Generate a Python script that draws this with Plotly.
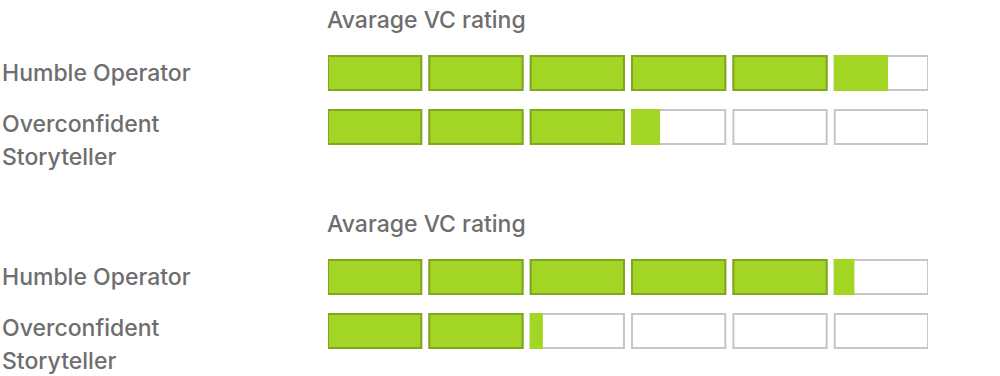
import plotly.graph_objects as go

# ---- data ----
chart_titles = ["Avarage VC rating", "Avarage VC rating"]
categories = ["Humble Operator", "Overconfident Storyteller"]
chart1_values = [5.56, 3.29]
chart2_values = [5.20, 2.12]
max_rating = 6

FILL = "#A3D624"
FILL_EDGE = "#7FA61C"
EMPTY_EDGE = "#C6C6C6"
TEXT = "#6E6E6E"
FONT = "Inter"
FSIZE = 23
BOX = 0.92  # fraction of one rating step occupied by a box

fig = go.Figure()

charts = [chart1_values, chart2_values]
yaxes = ["y", "y2"]
domains = [[0.5904, 0.8777], [0.0479, 0.3351]]

for ci, (vals, ya) in enumerate(zip(charts, yaxes)):
    for ri, cat in enumerate(categories):
        # empty boxes
        fig.add_trace(go.Bar(
            orientation="h", y=[cat] * max_rating, x=[BOX] * max_rating,
            base=list(range(max_rating)), width=0.63,
            marker=dict(color="white", line=dict(color=EMPTY_EDGE, width=2)),
            yaxis=ya, xaxis="x" if ci == 0 else "x2", showlegend=False, hoverinfo="skip"))
        # filled parts
        v = vals[ri]
        fx, fb, fl = [], [], []
        for i in range(max_rating):
            f = min(max(v - i, 0), 1)
            if f > 0:
                fx.append(f * BOX)
                fb.append(i)
                fl.append(FILL_EDGE if f >= 1 else FILL)
        fig.add_trace(go.Bar(
            orientation="h", y=[cat] * len(fx), x=fx, base=fb, width=0.63,
            marker=dict(color=FILL, line=dict(color=fl, width=2)),
            yaxis=ya, xaxis="x" if ci == 0 else "x2", showlegend=False, hoverinfo="skip"))

font = dict(family=FONT, size=FSIZE, color=TEXT, weight=500)
annotations = []
title_y = [0.947, 0.4045]
for ci, ya in enumerate(yaxes):
    xr = "x" if ci == 0 else "x2"
    annotations.append(dict(text=chart_titles[ci], xref=xr, x=0, xanchor="left", xshift=-3,
                            yref="paper", y=title_y[ci], yanchor="middle", showarrow=False,
                            font=font))
    annotations.append(dict(text=categories[0], xref="paper", x=0.0, xanchor="left",
                            yref=ya, y=categories[0], yanchor="middle", showarrow=False,
                            font=font))
    words = categories[1].split(" ")
    for wi, (w, sh) in enumerate(zip(words, [3, -30])):
        annotations.append(dict(text=w, xref="paper", x=0.0, xanchor="left",
                                yref=ya, y=categories[1], yanchor="middle", yshift=sh,
                                showarrow=False, font=font))

axis_common = dict(showgrid=False, zeroline=False, showticklabels=False, showline=False, ticks="")
fig.update_layout(
    width=1000, height=376, margin=dict(l=0, r=0, t=0, b=0),
    paper_bgcolor="white", plot_bgcolor="white", barmode="overlay",
    hovermode=False,
    xaxis=dict(domain=[0.328, 0.928], range=[0, max_rating - 1 + BOX], anchor="y", **axis_common),
    xaxis2=dict(domain=[0.328, 0.928], range=[0, max_rating - 1 + BOX], anchor="y2", **axis_common),
    yaxis=dict(domain=domains[0], range=[1.5, -0.5], type="category",
               categoryarray=categories, anchor="x", **axis_common),
    yaxis2=dict(domain=domains[1], range=[1.5, -0.5], type="category",
                categoryarray=categories, anchor="x2", **axis_common),
    annotations=annotations,
)

fig.write_html("out.html", config={"displayModeBar": False},
               post_script="document.body.style.margin='0';")
